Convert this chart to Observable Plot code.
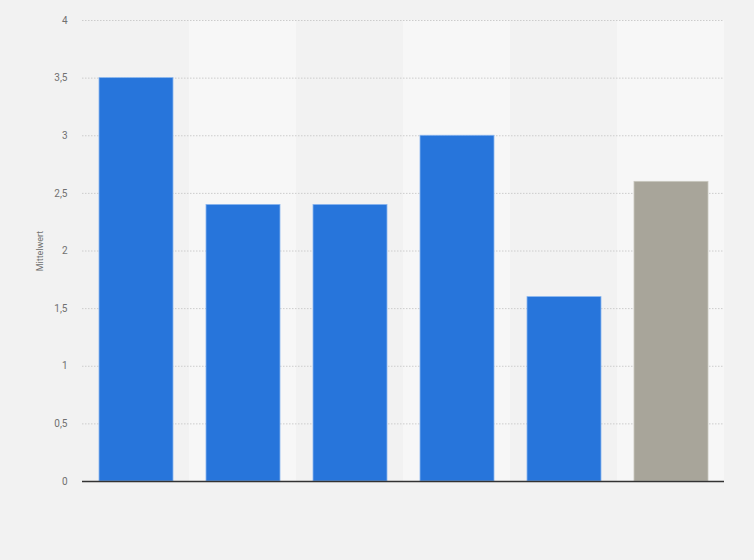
<!DOCTYPE html>
<html>
<head>
<meta charset="utf-8">
<script src="https://cdn.jsdelivr.net/npm/d3@7"></script>
<script src="https://cdn.jsdelivr.net/npm/@observablehq/plot@0.6"></script>
<style>
  html, body { margin: 0; padding: 0; background: #f2f2f2; }
  #chart svg { display: block; background: #f2f2f2; font-family: Roboto, "Noto Sans", sans-serif; }
</style>
</head>
<body>
<div id="chart"></div>
<script>
const categories = ["1", "2", "3", "4", "5", "6"];
const values = [3.5, 2.4, 2.4, 3.0, 1.6, 2.6];
const barColors = ["#2775db", "#2775db", "#2775db", "#2775db", "#2775db", "#a8a59a"];
const yTicks = [0, 0.5, 1, 1.5, 2, 2.5, 3, 3.5, 4];
const yLabel = "Mittelwert";

const data = categories.map((c, i) => ({cat: c, value: values[i], color: barColors[i], idx: i}));
const fmt = v => String(v).replace(".", ",");

const chart = Plot.plot({
  width: 754,
  height: 560,
  marginLeft: 82,
  marginRight: 30,
  marginTop: 20,
  marginBottom: 79,
  style: {background: "#f2f2f2", fontFamily: "Roboto, 'Noto Sans', sans-serif"},
  x: {domain: categories, padding: 0, axis: null},
  y: {domain: [0, 4], ticks: yTicks, tickFormat: fmt, label: null},
  marks: [
    Plot.barY(data.filter(d => d.idx % 2 === 1), {x: "cat", y1: 0, y2: 4, fill: "#f7f7f7"}),
    Plot.gridY(yTicks.filter(t => t > 0), {stroke: "#cccccc", strokeOpacity: 1, strokeDasharray: "1.5,1.5", strokeWidth: 1}),
    Plot.barY(data, {x: "cat", y: "value", fill: "color", insetLeft: 17, insetRight: 16, stroke: d => d.idx === 5 ? "#c9c7bf" : "#8ab6ef", strokeWidth: 0.8}),
    Plot.ruleY([0], {stroke: "#333333", strokeWidth: 1.5}),
    Plot.axisY({ticks: yTicks, tickFormat: fmt, tickSize: 0, tickPadding: 15, fontSize: 10, color: "#707070", label: null}),
    Plot.text([yLabel], {frameAnchor: "left", dx: -42, rotate: -90, fontSize: 9, fill: "#707070", textAnchor: "middle"})
  ]
});
document.getElementById("chart").appendChild(chart);
</script>
</body>
</html>
